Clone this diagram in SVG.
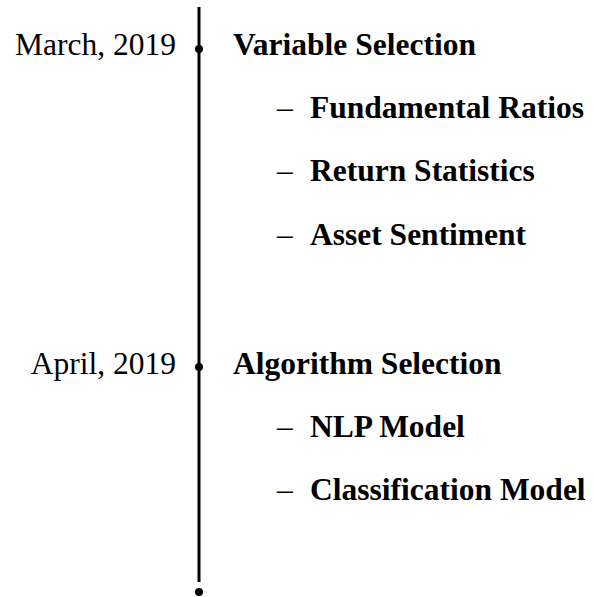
<svg xmlns="http://www.w3.org/2000/svg" width="594" height="597" viewBox="0 0 594 597">
<style>
.date{font-family:"Liberation Serif","Times New Roman",serif;font-size:31.5px;fill:#000;text-anchor:end}
.head{font-family:"Liberation Serif","Times New Roman",serif;font-size:31.5px;font-weight:bold;fill:#000}
.item{font-family:"Liberation Serif","Times New Roman",serif;font-size:31.5px;font-weight:bold;fill:#000}
.dash{font-family:"Liberation Serif","Times New Roman",serif;font-size:31.5px;fill:#000}
</style>
<rect width="594" height="597" fill="#fff"/>
<g id="connectors">
<line x1="199" y1="7" x2="199" y2="582" stroke="#000" stroke-width="3"/>
</g>
<g id="event-march">
<circle cx="199" cy="49" r="4" fill="#000"/>
<text class="date" x="176" y="55">March, 2019</text>
<text class="head" x="233" y="55">Variable Selection</text>
<text class="dash" x="277" y="118">–</text><text class="item" x="310" y="118">Fundamental Ratios</text>
<text class="dash" x="277" y="181">–</text><text class="item" x="310" y="181">Return Statistics</text>
<text class="dash" x="277" y="245">–</text><text class="item" x="310" y="245">Asset Sentiment</text>
</g>
<g id="event-april">
<circle cx="199" cy="367" r="4" fill="#000"/>
<text class="date" x="176" y="374">April, 2019</text>
<text class="head" x="233" y="374">Algorithm Selection</text>
<text class="dash" x="277" y="437">–</text><text class="item" x="310" y="437">NLP Model</text>
<text class="dash" x="277" y="500">–</text><text class="item" x="310" y="500">Classification Model</text>
</g>
<g id="end">
<circle cx="199" cy="592" r="4" fill="#000"/>
</g>
</svg>
